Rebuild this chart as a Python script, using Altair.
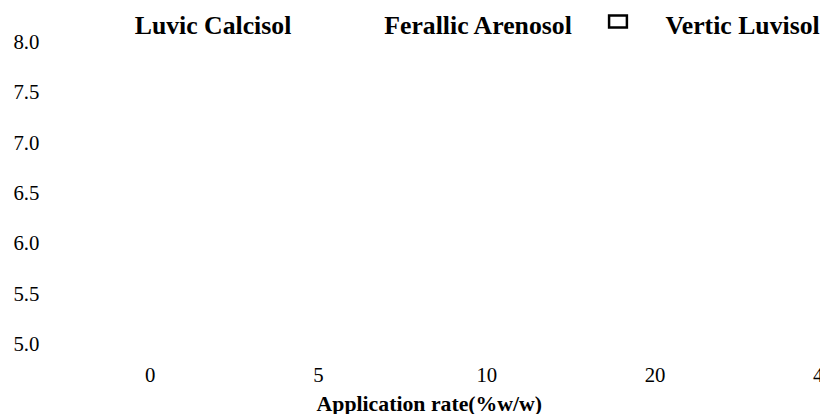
import altair as alt
import pandas as pd

rates = ["0", "5", "10", "20", "40"]
soils = ["Luvic Calcisol", "Ferallic Arenosol", "Vertic Luvisol"]
y_ticks = [5.0, 5.5, 6.0, 6.5, 7.0, 7.5, 8.0]
soil_colors = ["#ffffff", "#ffffff", "#000000"]

rows = [{"rate": r, "soil": s} for s in soils for r in rates]
df = pd.DataFrame(rows)

FONT = "Liberation Serif"
rect_path = "M-1,-1.15L1,-1.15L1,0.19L-1,0.19Z"

chart = alt.Chart(df).mark_point(opacity=0, filled=False).encode(
    x=alt.X(
        "rate:N",
        sort=rates,
        scale=alt.Scale(type="point", range=[91, 771], padding=0),
        axis=alt.Axis(
            title="Application rate(%w/w)",
            labelAngle=0,
            labelFont=FONT,
            labelFontSize=21,
            labelColor="#000000",
            labelPadding=20,
            labelOverlap=False,
            domain=False,
            ticks=False,
            tickSize=0,
            grid=False,
            titleFont=FONT,
            titleFontSize=22,
            titleFontWeight="bold",
            titleColor="#000000",
            titleX=373,
            titleY=66.6,
            titleBaseline="alphabetic",
            titleAlign="center",
        ),
    ),
    y=alt.YDatum(
        5.0,
        type="quantitative",
        scale=alt.Scale(domain=[5, 8], nice=False, zero=False),
        axis=alt.Axis(
            title=None,
            values=y_ticks,
            format=".1f",
            labelFont=FONT,
            labelFontSize=21,
            labelColor="#000000",
            labelAlign="left",
            labelPadding=47,
            labelOverlap=False,
            labelFlush=False,
            domain=False,
            ticks=False,
            tickSize=0,
            grid=False,
        ),
    ),
    stroke=alt.Stroke(
        "soil:N",
        sort=soils,
        scale=alt.Scale(domain=soils, range=soil_colors),
        legend=alt.Legend(
            orient="none",
            legendX=15,
            legendY=-30,
            direction="horizontal",
            columns=3,
            title=None,
            symbolType=rect_path,
            symbolSize=324,
            symbolStrokeWidth=2.5,
            symbolOpacity=1,
            symbolFillColor="#ffffff",
            labelFont=FONT,
            labelFontSize=26,
            labelFontWeight="bold",
            labelColor="#000000",
            labelOffset=35,
            labelLimit=400,
            columnPadding=31,
            padding=0,
        ),
    ),
).properties(
    width=768,
    height=305,
    autosize=alt.AutoSizeParams(type="none"),
    padding={"left": 52, "top": 33, "right": 0, "bottom": 68},
).configure_view(strokeWidth=0)

chart.save("out.html", embed_options={"renderer": "svg", "actions": False})
